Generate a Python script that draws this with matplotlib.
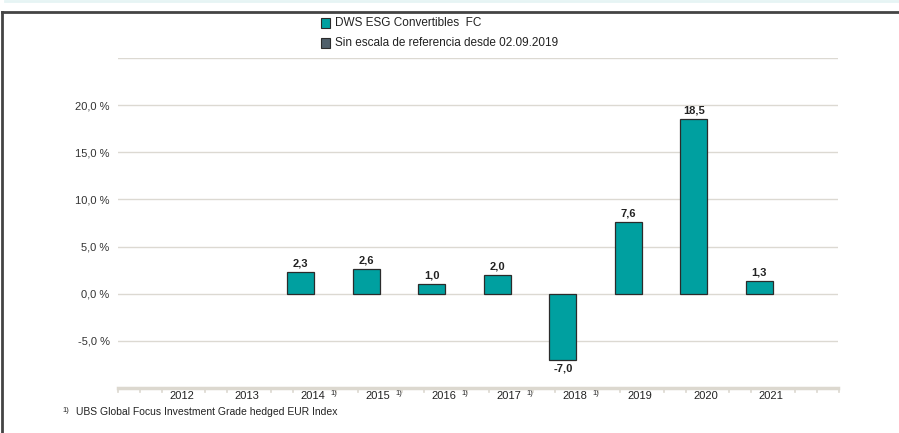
import matplotlib
matplotlib.use("Agg")
import matplotlib.pyplot as plt
from matplotlib.patches import Rectangle
from matplotlib.lines import Line2D
import matplotlib.transforms as mtrans

plt.rcParams['font.family'] = ['Liberation Sans', 'DejaVu Sans']

# data
years = ['2012', '2013', '2014', '2015', '2016', '2017', '2018', '2019', '2020', '2021']
values = [None, None, 2.3, 2.6, 1.0, 2.0, -7.0, 7.6, 18.5, 1.3]
footnoted = ['2014', '2015', '2016', '2017', '2018']
yticks = [-5, 0, 5, 10, 15, 20]
legend_labels = ['DWS ESG Convertibles  FC', 'Sin escala de referencia desde 02.09.2019']
footnote = 'UBS Global Focus Investment Grade hedged EUR Index'

teal = '#00a0a0'
slate = '#4f5f6a'
grid_c = '#dcd9d2'
axis_c = '#dcd8cf'

fig = plt.figure(figsize=(8.99, 4.33), dpi=100)
ax = fig.add_axes([118 / 899, 45 / 433, 720 / 899, 330 / 433])

for i, v in enumerate(values):
    if v is None:
        continue
    ax.bar(i, v, width=0.41, color=teal, edgecolor='#2b2b2b', linewidth=0.9, zorder=3)
    lab = ('%.1f' % v).replace('.', ',')
    if v >= 0:
        ax.annotate(lab, (i, v), xytext=(0, 2.5), textcoords='offset points',
                    ha='center', va='bottom', fontsize=8, fontweight='bold',
                    color='#222222', zorder=4)
    else:
        ax.annotate(lab, (i, v), xytext=(0, -3), textcoords='offset points',
                    ha='center', va='top', fontsize=8, fontweight='bold',
                    color='#222222', zorder=4)

ax.set_xlim(-0.79, 10.2)
ax.set_ylim(-10, 25)

for y in yticks + [25]:
    ax.axhline(y, color=grid_c, linewidth=1, zorder=1)

ax.set_yticks(yticks)
ax.set_yticklabels([('%.1f %%' % y).replace('.', ',') for y in yticks], fontsize=8, color='#333333')
ax.tick_params(axis='y', length=0, pad=6)
ax.set_xticks([])

for s in ['top', 'right', 'left']:
    ax.spines[s].set_visible(False)
ax.spines['bottom'].set_color(axis_c)
ax.spines['bottom'].set_linewidth(2.5)

# small ticks along the bottom axis
trans = mtrans.blended_transform_factory(ax.transData, ax.transAxes)
k = 0
while -0.79 + k / 3 <= 10.21:
    x = -0.79 + k / 3
    near_label = any(abs(x - (i + 0.21)) < 0.05 for i in range(len(years)))
    if not near_label:
        ax.add_line(Line2D([x, x], [0, -0.012], transform=trans, color=axis_c,
                           linewidth=1.2, clip_on=False))
    k += 1

# year labels
for i, yr in enumerate(years):
    ax.text(i + 0.18, -0.008, yr, transform=trans, ha='center', va='top',
            fontsize=8, color='#222222')
    if yr in footnoted:
        ax.text(i + 0.5, -0.006, '1)', transform=trans, ha='center', va='top',
                fontsize=5.5, color='#222222')

# legend
for j, (lab, col) in enumerate(zip(legend_labels, [teal, slate])):
    ytop = 18 + j * 20
    fig.patches.append(Rectangle((321 / 899, 1 - (ytop + 10) / 433), 9 / 899, 10 / 433,
                                 transform=fig.transFigure, facecolor=col,
                                 edgecolor='#2b2b2b', linewidth=0.8))
    fig.text(335 / 899, 1 - (ytop + 5) / 433, lab, ha='left', va='center',
             fontsize=8.5, color='#222222')

# footnote
fig.text(62 / 899, 1 - 410 / 433, '1)', ha='left', va='center', fontsize=5.5, color='#222222')
fig.text(76 / 899, 1 - 412 / 433, footnote, ha='left', va='center', fontsize=7.5, color='#222222')

# frame
fig.add_artist(Line2D([2 / 899, 1], [1 - 12 / 433, 1 - 12 / 433], transform=fig.transFigure,
                      color='#444444', linewidth=2))
fig.add_artist(Line2D([2 / 899, 2 / 899], [0, 1 - 12 / 433], transform=fig.transFigure,
                      color='#444444', linewidth=2))
fig.add_artist(Line2D([5 / 899, 1], [1 - 1 / 433, 1 - 1 / 433], transform=fig.transFigure,
                      color='#e6f4f4', linewidth=2))

fig.savefig('out.png', dpi=100)
